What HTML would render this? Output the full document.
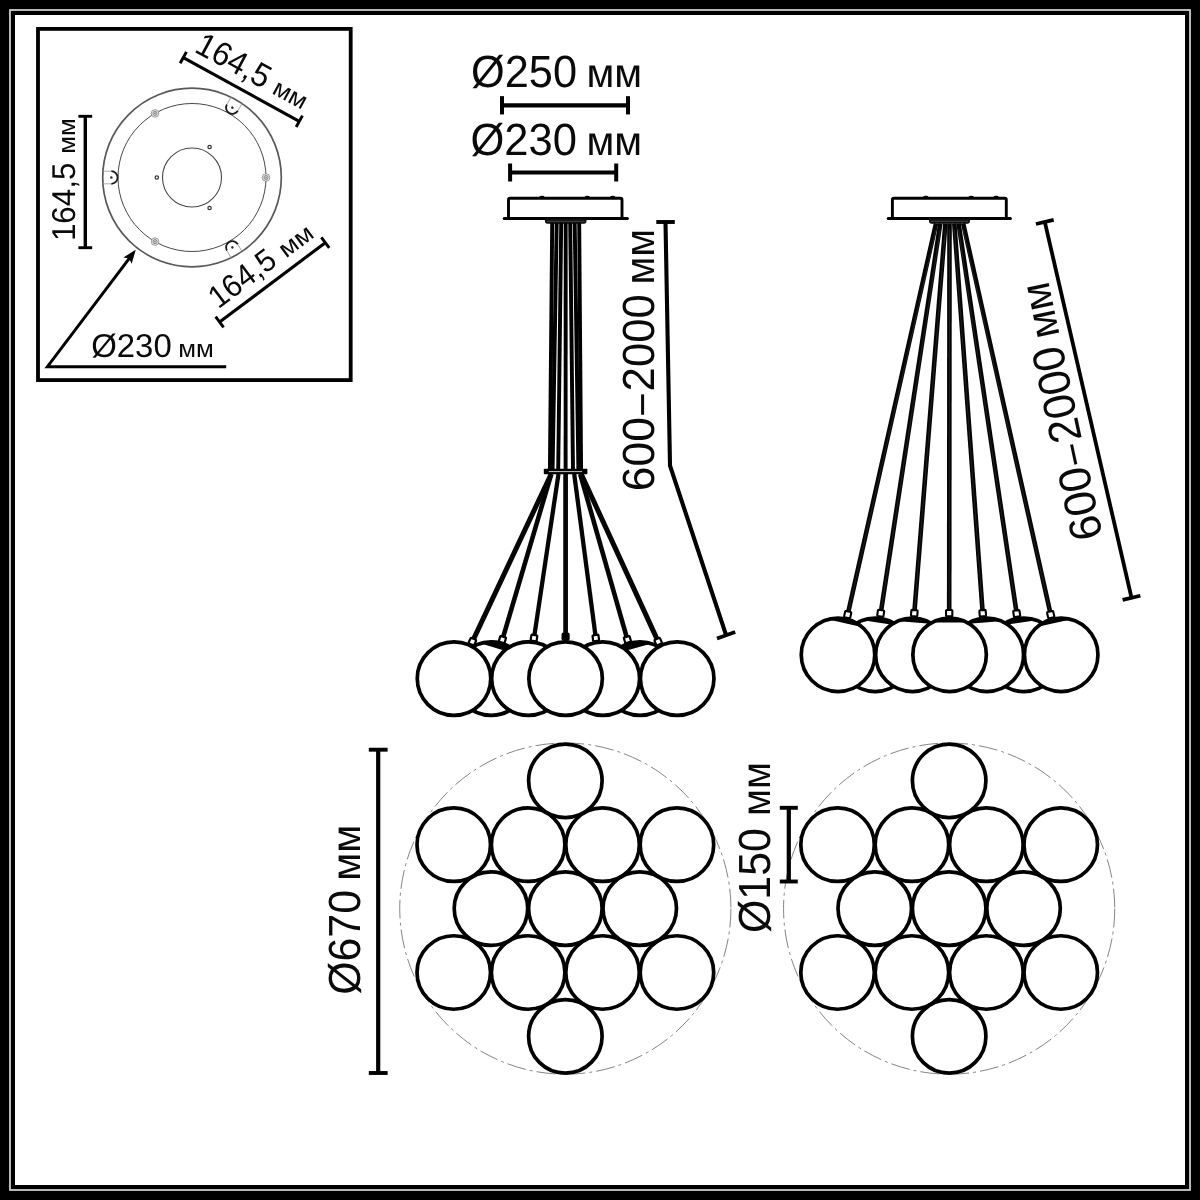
<!DOCTYPE html>
<html lang="ru"><head><meta charset="utf-8"><title>Схема светильника</title>
<style>html,body{margin:0;padding:0;background:#000;}body{width:1200px;height:1200px;overflow:hidden;}svg{display:block;will-change:transform;}text{text-rendering:geometricPrecision;}</style>
</head><body>
<svg width="1200" height="1200" viewBox="0 0 1200 1200">
<rect x="0" y="0" width="1200" height="1200" fill="#000"/>
<rect x="15" y="15" width="1170" height="1170" fill="#fff"/>
<rect x="10" y="10" width="1180" height="1180" fill="none" stroke="#e6e6e6" stroke-width="1.6"/>
<rect x="38" y="28.9" width="312.7" height="351.2" fill="#fff" stroke="#000" stroke-width="3.8"/>
<circle cx="192" cy="177.5" r="89.3" stroke="#585858" stroke-width="1.7" fill="none" />
<circle cx="192" cy="177.5" r="74" stroke="#484848" stroke-width="1" fill="none" />
<circle cx="192" cy="177.5" r="29.5" stroke="#484848" stroke-width="1.1" fill="none" />
<circle cx="156.8" cy="177.5" r="1.7" stroke="#333" stroke-width="1.2" fill="none" />
<circle cx="209.6" cy="147.02" r="1.7" stroke="#333" stroke-width="1.2" fill="none" />
<circle cx="209.6" cy="207.98" r="1.7" stroke="#333" stroke-width="1.2" fill="none" />
<circle cx="266" cy="177.5" r="3.8" stroke="#777" stroke-width="0.7" fill="#f0f0f0" />
<circle cx="266" cy="177.5" r="2.1" stroke="#666" stroke-width="0.7" fill="#dedede" />
<circle cx="266" cy="177.5" r="0.8" stroke="#666" stroke-width="0.4" fill="#aaa" />
<circle cx="155" cy="241.59" r="3.8" stroke="#777" stroke-width="0.7" fill="#f0f0f0" />
<circle cx="155" cy="241.59" r="2.1" stroke="#666" stroke-width="0.7" fill="#dedede" />
<circle cx="155" cy="241.59" r="0.8" stroke="#666" stroke-width="0.4" fill="#aaa" />
<circle cx="155" cy="113.41" r="3.8" stroke="#777" stroke-width="0.7" fill="#f0f0f0" />
<circle cx="155" cy="113.41" r="2.1" stroke="#666" stroke-width="0.7" fill="#dedede" />
<circle cx="155" cy="113.41" r="0.8" stroke="#666" stroke-width="0.4" fill="#aaa" />
<g transform="translate(192 177.5) rotate(180)">
<path d="M89 -6.3 L80.7 -6.3 M80.7 6.3 L89 6.3" stroke="#9a9a9a" stroke-width="0.8" fill="none"/>
<path d="M80.7 -6.3 A6.3 6.3 0 0 0 80.7 6.3" stroke="#1a1a1a" stroke-width="1.8" fill="none"/>
<circle cx="80.7" cy="0" r="1.3" fill="#333"/>
</g>
<g transform="translate(192 177.5) rotate(-60)">
<path d="M89 -6.3 L80.7 -6.3 M80.7 6.3 L89 6.3" stroke="#9a9a9a" stroke-width="0.8" fill="none"/>
<path d="M80.7 -6.3 A6.3 6.3 0 0 0 80.7 6.3" stroke="#1a1a1a" stroke-width="1.8" fill="none"/>
<circle cx="80.7" cy="0" r="1.3" fill="#333"/>
</g>
<g transform="translate(192 177.5) rotate(60)">
<path d="M89 -6.3 L80.7 -6.3 M80.7 6.3 L89 6.3" stroke="#9a9a9a" stroke-width="0.8" fill="none"/>
<path d="M80.7 -6.3 A6.3 6.3 0 0 0 80.7 6.3" stroke="#1a1a1a" stroke-width="1.8" fill="none"/>
<circle cx="80.7" cy="0" r="1.3" fill="#333"/>
</g>
<line x1="183.3" y1="57.6" x2="299.3" y2="121.3" stroke="#000" stroke-width="3.1" stroke-linecap="butt" />
<line x1="186.43" y1="51.9" x2="180.17" y2="63.3" stroke="#000" stroke-width="2.9" stroke-linecap="butt" />
<line x1="302.43" y1="115.6" x2="296.17" y2="127" stroke="#000" stroke-width="2.9" stroke-linecap="butt" />
<line x1="85.3" y1="116.3" x2="85.3" y2="247.7" stroke="#000" stroke-width="3.4" stroke-linecap="butt" />
<line x1="92.17" y1="116.3" x2="78.42" y2="116.3" stroke="#000" stroke-width="2.9" stroke-linecap="butt" />
<line x1="92.17" y1="247.7" x2="78.42" y2="247.7" stroke="#000" stroke-width="2.9" stroke-linecap="butt" />
<line x1="219.6" y1="322" x2="325.3" y2="242.7" stroke="#000" stroke-width="3.1" stroke-linecap="butt" />
<line x1="215.64" y1="316.72" x2="223.56" y2="327.28" stroke="#000" stroke-width="2.9" stroke-linecap="butt" />
<line x1="321.34" y1="237.42" x2="329.26" y2="247.98" stroke="#000" stroke-width="2.9" stroke-linecap="butt" />
<path d="M226.2 366.7 L47.4 366.7 L131 256.1" fill="none" stroke="#000" stroke-width="3" stroke-linejoin="miter"/>
<path d="M135.75 249.75 L123.4 257.46 L129.12 258.52 L131.7 263.73 Z" fill="#000"/>
<g transform="translate(75 238.7) rotate(-90)" font-family="'Liberation Sans', sans-serif" fill="#0a0a0a">
<text><tspan x="-2.39" y="0" font-size="33" textLength="78.4" lengthAdjust="spacingAndGlyphs">164,5</tspan> <tspan x="84.91" y="0" font-size="24.4" textLength="35.58" lengthAdjust="spacingAndGlyphs">мм</tspan></text>
</g>
<g transform="translate(195.5 52.3) rotate(28.4)" font-family="'Liberation Sans', sans-serif" fill="#0a0a0a">
<text><tspan x="-2.43" y="0" font-size="33" textLength="79.77" lengthAdjust="spacingAndGlyphs">164,5</tspan> <tspan x="85.71" y="0" font-size="24.4" textLength="35.58" lengthAdjust="spacingAndGlyphs">мм</tspan></text>
</g>
<g transform="translate(220 308.2) rotate(-37)" font-family="'Liberation Sans', sans-serif" fill="#0a0a0a">
<text><tspan x="-2.3" y="0" font-size="31.5" textLength="75.67" lengthAdjust="spacingAndGlyphs">164,5</tspan> <tspan x="82.54" y="0" font-size="24.4" textLength="36.91" lengthAdjust="spacingAndGlyphs">мм</tspan></text>
</g>
<g transform="translate(92.3 357.1) rotate(0)" font-family="'Liberation Sans', sans-serif" fill="#0a0a0a">
<text><tspan x="-1.14" y="0" font-size="33" textLength="80.53" lengthAdjust="spacingAndGlyphs">Ø230</tspan> <tspan x="85.91" y="0" font-size="24.8" textLength="35.58" lengthAdjust="spacingAndGlyphs">мм</tspan></text>
</g>
<g transform="translate(472.5 87) rotate(0)" font-family="'Liberation Sans', sans-serif" fill="#0a0a0a">
<text><tspan x="-1.5" y="0" font-size="45" textLength="105.99" lengthAdjust="spacingAndGlyphs">Ø250</tspan> <tspan x="113.9" y="0" font-size="40.5" textLength="55.59" lengthAdjust="spacingAndGlyphs">мм</tspan></text>
</g>
<line x1="502" y1="105.3" x2="628" y2="105.3" stroke="#000" stroke-width="4.2" stroke-linecap="butt" />
<line x1="502" y1="96.15" x2="502" y2="114.45" stroke="#000" stroke-width="4" stroke-linecap="butt" />
<line x1="628" y1="96.15" x2="628" y2="114.45" stroke="#000" stroke-width="4" stroke-linecap="butt" />
<g transform="translate(472 155) rotate(0)" font-family="'Liberation Sans', sans-serif" fill="#0a0a0a">
<text><tspan x="-1.51" y="0" font-size="45" textLength="106.51" lengthAdjust="spacingAndGlyphs">Ø230</tspan> <tspan x="114.4" y="0" font-size="40.5" textLength="55.59" lengthAdjust="spacingAndGlyphs">мм</tspan></text>
</g>
<line x1="510.1" y1="172.5" x2="616.2" y2="172.5" stroke="#000" stroke-width="4.2" stroke-linecap="butt" />
<line x1="510.1" y1="163.5" x2="510.1" y2="181.5" stroke="#000" stroke-width="4" stroke-linecap="butt" />
<line x1="616.2" y1="163.5" x2="616.2" y2="181.5" stroke="#000" stroke-width="4" stroke-linecap="butt" />
<path d="M508.5 218.5 L508.5 199.8 Q508.5 198.3 510 198.3 L620.5 198.3 Q622 198.3 622 199.8 L622 218.5" fill="#fff" stroke="#000" stroke-width="2.9"/>
<ellipse cx="542" cy="196.9" rx="2.6" ry="1.2" fill="#000"/>
<ellipse cx="587.3" cy="196.9" rx="2.6" ry="1.2" fill="#000"/>
<ellipse cx="612.7" cy="196.9" rx="2.6" ry="1.2" fill="#000"/>
<line x1="504.2" y1="218.4" x2="627.4" y2="218.4" stroke="#000" stroke-width="3" stroke-linecap="round" />
<path d="M544.7 218.4 L586.7 218.4 L586.4 222 Q586.1 223.7 584.2 223.7 L547.2 223.7 Q545.3 223.7 545 222 Z" fill="#111"/>
<line x1="546.7" y1="221.3" x2="584.7" y2="221.3" stroke="#5a5a5a" stroke-width="0.7" stroke-linecap="butt" />
<path d="M892.4 218.5 L892.4 199.8 Q892.4 198.3 893.9 198.3 L1004.8 198.3 Q1006.3 198.3 1006.3 199.8 L1006.3 218.5" fill="#fff" stroke="#000" stroke-width="2.9"/>
<ellipse cx="925.8" cy="196.9" rx="2.6" ry="1.2" fill="#000"/>
<ellipse cx="971.2" cy="196.9" rx="2.6" ry="1.2" fill="#000"/>
<ellipse cx="996.2" cy="196.9" rx="2.6" ry="1.2" fill="#000"/>
<line x1="888.2" y1="218.4" x2="1010.4" y2="218.4" stroke="#000" stroke-width="3" stroke-linecap="round" />
<path d="M928.8 218.4 L970.2 218.4 L969.9 222 Q969.6 223.7 967.7 223.7 L931.3 223.7 Q929.4 223.7 929.1 222 Z" fill="#111"/>
<line x1="930.8" y1="221.3" x2="968.2" y2="221.3" stroke="#5a5a5a" stroke-width="0.7" stroke-linecap="butt" />
<line x1="552.2" y1="223" x2="549.9" y2="470" stroke="#000" stroke-width="3.9" stroke-linecap="butt" />
<line x1="556.7" y1="223" x2="552.6" y2="470" stroke="#000" stroke-width="3.9" stroke-linecap="butt" />
<line x1="561.2" y1="223" x2="558.2" y2="470" stroke="#000" stroke-width="3.9" stroke-linecap="butt" />
<line x1="565.7" y1="223" x2="565.6" y2="470" stroke="#000" stroke-width="3.9" stroke-linecap="butt" />
<line x1="570.2" y1="223" x2="573" y2="470" stroke="#000" stroke-width="3.9" stroke-linecap="butt" />
<line x1="574.7" y1="223" x2="578.4" y2="470" stroke="#000" stroke-width="3.9" stroke-linecap="butt" />
<line x1="579.2" y1="223" x2="581.1" y2="470" stroke="#000" stroke-width="3.9" stroke-linecap="butt" />
<rect x="543.8" y="468.8" width="43.6" height="5.5" rx="0.8" fill="#000"/>
<line x1="548.8" y1="471.6" x2="582" y2="471.6" stroke="#ddd" stroke-width="0.9" stroke-linecap="butt" />
<circle cx="491.2" cy="678.6" r="36.75" stroke="#000" stroke-width="3.7" fill="#fff" />
<g transform="translate(491.2 678.6) rotate(16.45)"><path d="M-18.93 -31.5 A36.75 36.75 0 0 1 18.93 -31.5 Z" fill="#000" stroke="#000" stroke-width="1.6" stroke-linejoin="round"/></g>
<circle cx="640" cy="678.6" r="36.75" stroke="#000" stroke-width="3.7" fill="#fff" />
<g transform="translate(640 678.6) rotate(-15.91)"><path d="M-18.93 -31.5 A36.75 36.75 0 0 1 18.93 -31.5 Z" fill="#000" stroke="#000" stroke-width="1.6" stroke-linejoin="round"/></g>
<circle cx="528.4" cy="678.6" r="36.75" stroke="#000" stroke-width="3.7" fill="#fff" />
<circle cx="602.8" cy="678.6" r="36.75" stroke="#000" stroke-width="3.7" fill="#fff" />
<circle cx="454" cy="678.6" r="36.75" stroke="#000" stroke-width="3.7" fill="#fff" />
<circle cx="677.2" cy="678.6" r="36.75" stroke="#000" stroke-width="3.7" fill="#fff" />
<circle cx="565.6" cy="678.6" r="36.75" stroke="#000" stroke-width="3.7" fill="#fff" />
<line x1="551.2" y1="474" x2="472.4" y2="641.6" stroke="#050505" stroke-width="5" stroke-linecap="butt" />
<line x1="551.3" y1="474" x2="502.4" y2="639.6" stroke="#050505" stroke-width="4.6" stroke-linecap="butt" />
<line x1="558.5" y1="474" x2="534" y2="638" stroke="#050505" stroke-width="4.3" stroke-linecap="butt" />
<line x1="565.6" y1="474" x2="565.6" y2="636.6" stroke="#050505" stroke-width="4.7" stroke-linecap="butt" />
<line x1="574.2" y1="474" x2="595.8" y2="638" stroke="#050505" stroke-width="4.3" stroke-linecap="butt" />
<line x1="580.2" y1="474" x2="627.4" y2="639.6" stroke="#050505" stroke-width="4.6" stroke-linecap="butt" />
<line x1="581.2" y1="474" x2="658.2" y2="641.6" stroke="#050505" stroke-width="5" stroke-linecap="butt" />
<g transform="translate(472.4 641.6) rotate(25.18)"><rect x="-3" y="-3" width="6" height="6" rx="0.8" fill="#fff" stroke="#000" stroke-width="2.2"/></g>
<g transform="translate(502.4 639.6) rotate(16.45)"><rect x="-3" y="-3" width="6" height="6" rx="0.8" fill="#fff" stroke="#000" stroke-width="2.2"/></g>
<g transform="translate(534 638) rotate(8.5)"><rect x="-3" y="-3" width="6" height="6" rx="0.8" fill="#fff" stroke="#000" stroke-width="2.2"/></g>
<g transform="translate(565.6 636.6) rotate(0)"><rect x="-3" y="-3" width="6" height="6" rx="0.8" fill="#000" stroke="#000" stroke-width="2.2"/></g>
<g transform="translate(595.8 638) rotate(-7.5)"><rect x="-3" y="-3" width="6" height="6" rx="0.8" fill="#fff" stroke="#000" stroke-width="2.2"/></g>
<g transform="translate(627.4 639.6) rotate(-15.91)"><rect x="-3" y="-3" width="6" height="6" rx="0.8" fill="#fff" stroke="#000" stroke-width="2.2"/></g>
<g transform="translate(658.2 641.6) rotate(-24.68)"><rect x="-3" y="-3" width="6" height="6" rx="0.8" fill="#fff" stroke="#000" stroke-width="2.2"/></g>
<path d="M665.5 222 L670 465.6 L726.1 635.2" fill="none" stroke="#000" stroke-width="4.1" stroke-linejoin="round"/>
<line x1="656.3" y1="222" x2="674.8" y2="222" stroke="#000" stroke-width="3.9" stroke-linecap="butt" />
<line x1="717" y1="638.5" x2="735.2" y2="631.9" stroke="#000" stroke-width="3.7" stroke-linecap="butt" />
<g transform="translate(654.1 488.9) rotate(-90)" font-family="'Liberation Sans', sans-serif" fill="#0a0a0a">
<text><tspan x="-2.25" y="0" font-size="45" textLength="73.98" lengthAdjust="spacingAndGlyphs">600</tspan><tspan x="74.1" y="0" font-size="45" textLength="20.42" lengthAdjust="spacingAndGlyphs">–</tspan><tspan x="97.5" y="0" font-size="45" textLength="97.31" lengthAdjust="spacingAndGlyphs">2000</tspan> <tspan x="204.29" y="0" font-size="41.5" textLength="55.7" lengthAdjust="spacingAndGlyphs">мм</tspan></text>
</g>
<circle cx="875.2" cy="654.8" r="36.75" stroke="#000" stroke-width="3.7" fill="#fff" />
<g transform="translate(875.2 654.8) rotate(8.69)"><path d="M-15.76 -33.2 A36.75 36.75 0 0 1 15.76 -33.2 Z" fill="#000" stroke="#000" stroke-width="1.6" stroke-linejoin="round"/></g>
<circle cx="1024" cy="654.8" r="36.75" stroke="#000" stroke-width="3.7" fill="#fff" />
<g transform="translate(1024 654.8) rotate(-8.47)"><path d="M-15.76 -33.2 A36.75 36.75 0 0 1 15.76 -33.2 Z" fill="#000" stroke="#000" stroke-width="1.6" stroke-linejoin="round"/></g>
<circle cx="912.4" cy="654.8" r="36.75" stroke="#000" stroke-width="3.7" fill="#fff" />
<g transform="translate(912.4 654.8) rotate(4.56)"><path d="M-15.76 -33.2 A36.75 36.75 0 0 1 15.76 -33.2 Z" fill="#000" stroke="#000" stroke-width="1.6" stroke-linejoin="round"/></g>
<circle cx="986.8" cy="654.8" r="36.75" stroke="#000" stroke-width="3.7" fill="#fff" />
<g transform="translate(986.8 654.8) rotate(-4.17)"><path d="M-15.76 -33.2 A36.75 36.75 0 0 1 15.76 -33.2 Z" fill="#000" stroke="#000" stroke-width="1.6" stroke-linejoin="round"/></g>
<circle cx="838" cy="654.8" r="36.75" stroke="#000" stroke-width="3.7" fill="#fff" />
<g transform="translate(838 654.8) rotate(12.72)"><path d="M-15.76 -33.2 A36.75 36.75 0 0 1 15.76 -33.2 Z" fill="#000" stroke="#000" stroke-width="1.6" stroke-linejoin="round"/></g>
<circle cx="1061.2" cy="654.8" r="36.75" stroke="#000" stroke-width="3.7" fill="#fff" />
<g transform="translate(1061.2 654.8) rotate(-12.61)"><path d="M-15.76 -33.2 A36.75 36.75 0 0 1 15.76 -33.2 Z" fill="#000" stroke="#000" stroke-width="1.6" stroke-linejoin="round"/></g>
<circle cx="949.6" cy="654.8" r="36.75" stroke="#000" stroke-width="3.7" fill="#fff" />
<g transform="translate(949.6 654.8) rotate(0.04)"><path d="M-15.76 -33.2 A36.75 36.75 0 0 1 15.76 -33.2 Z" fill="#000" stroke="#000" stroke-width="1.6" stroke-linejoin="round"/></g>
<line x1="936" y1="223.5" x2="847.7" y2="614.6" stroke="#050505" stroke-width="4.6" stroke-linecap="butt" />
<line x1="936" y1="229.5" x2="847.7" y2="614.6" stroke="#333" stroke-width="0.6" stroke-linecap="butt" />
<line x1="940.3" y1="223.5" x2="880.7" y2="613.3" stroke="#050505" stroke-width="4.6" stroke-linecap="butt" />
<line x1="940.3" y1="229.5" x2="880.7" y2="613.3" stroke="#333" stroke-width="0.6" stroke-linecap="butt" />
<line x1="945.4" y1="223.5" x2="914.3" y2="613.2" stroke="#050505" stroke-width="4.6" stroke-linecap="butt" />
<line x1="945.4" y1="229.5" x2="914.3" y2="613.2" stroke="#333" stroke-width="0.6" stroke-linecap="butt" />
<line x1="949.5" y1="223.5" x2="949.2" y2="613.2" stroke="#050505" stroke-width="4.6" stroke-linecap="butt" />
<line x1="949.5" y1="229.5" x2="949.2" y2="613.2" stroke="#333" stroke-width="0.6" stroke-linecap="butt" />
<line x1="954.3" y1="223.5" x2="982.7" y2="613.2" stroke="#050505" stroke-width="4.6" stroke-linecap="butt" />
<line x1="954.3" y1="229.5" x2="982.7" y2="613.2" stroke="#333" stroke-width="0.6" stroke-linecap="butt" />
<line x1="958.6" y1="223.5" x2="1016.7" y2="613.6" stroke="#050505" stroke-width="4.6" stroke-linecap="butt" />
<line x1="958.6" y1="229.5" x2="1016.7" y2="613.6" stroke="#333" stroke-width="0.6" stroke-linecap="butt" />
<line x1="963.2" y1="223.5" x2="1050.7" y2="614.6" stroke="#050505" stroke-width="4.6" stroke-linecap="butt" />
<line x1="963.2" y1="229.5" x2="1050.7" y2="614.6" stroke="#333" stroke-width="0.6" stroke-linecap="butt" />
<g transform="translate(847.7 614.6) rotate(12.72)"><rect x="-3.15" y="-3.15" width="6.3" height="6.3" rx="0.8" fill="#fff" stroke="#000" stroke-width="2.1"/></g>
<g transform="translate(880.7 613.3) rotate(8.69)"><rect x="-3.15" y="-3.15" width="6.3" height="6.3" rx="0.8" fill="#fff" stroke="#000" stroke-width="2.1"/></g>
<g transform="translate(914.3 613.2) rotate(4.56)"><rect x="-3.15" y="-3.15" width="6.3" height="6.3" rx="0.8" fill="#fff" stroke="#000" stroke-width="2.1"/></g>
<g transform="translate(949.2 613.2) rotate(0.04)"><rect x="-3.15" y="-3.15" width="6.3" height="6.3" rx="0.8" fill="#fff" stroke="#000" stroke-width="2.1"/></g>
<g transform="translate(982.7 613.2) rotate(-4.17)"><rect x="-3.15" y="-3.15" width="6.3" height="6.3" rx="0.8" fill="#fff" stroke="#000" stroke-width="2.1"/></g>
<g transform="translate(1016.7 613.6) rotate(-8.47)"><rect x="-3.15" y="-3.15" width="6.3" height="6.3" rx="0.8" fill="#fff" stroke="#000" stroke-width="2.1"/></g>
<g transform="translate(1050.7 614.6) rotate(-12.61)"><rect x="-3.15" y="-3.15" width="6.3" height="6.3" rx="0.8" fill="#fff" stroke="#000" stroke-width="2.1"/></g>
<line x1="1044.8" y1="221.9" x2="1131.5" y2="597.8" stroke="#000" stroke-width="3.8" stroke-linecap="butt" />
<line x1="1053.67" y1="219.85" x2="1035.93" y2="223.95" stroke="#000" stroke-width="3.7" stroke-linecap="butt" />
<line x1="1140.37" y1="595.75" x2="1122.63" y2="599.85" stroke="#000" stroke-width="3.7" stroke-linecap="butt" />
<g transform="translate(1103.3 538) rotate(-102.1)" font-family="'Liberation Sans', sans-serif" fill="#0a0a0a">
<text><tspan x="1.35" y="0" font-size="45" textLength="73.98" lengthAdjust="spacingAndGlyphs">600</tspan><tspan x="77.7" y="0" font-size="45" textLength="20.42" lengthAdjust="spacingAndGlyphs">–</tspan><tspan x="101.1" y="0" font-size="45" textLength="97.52" lengthAdjust="spacingAndGlyphs">2000</tspan> <tspan x="207.36" y="0" font-size="41.5" textLength="56.36" lengthAdjust="spacingAndGlyphs">мм</tspan></text>
</g>
<circle cx="565.35" cy="908.6" r="165.6" stroke="#858585" stroke-width="1" fill="none" stroke-dasharray="19 4 3 4"/>
<circle cx="453.75" cy="844.7" r="36.75" stroke="#000" stroke-width="3.7" fill="#fff" />
<circle cx="528.15" cy="844.7" r="36.75" stroke="#000" stroke-width="3.7" fill="#fff" />
<circle cx="602.55" cy="844.7" r="36.75" stroke="#000" stroke-width="3.7" fill="#fff" />
<circle cx="676.95" cy="844.7" r="36.75" stroke="#000" stroke-width="3.7" fill="#fff" />
<circle cx="453.75" cy="972.5" r="36.75" stroke="#000" stroke-width="3.7" fill="#fff" />
<circle cx="528.15" cy="972.5" r="36.75" stroke="#000" stroke-width="3.7" fill="#fff" />
<circle cx="602.55" cy="972.5" r="36.75" stroke="#000" stroke-width="3.7" fill="#fff" />
<circle cx="676.95" cy="972.5" r="36.75" stroke="#000" stroke-width="3.7" fill="#fff" />
<circle cx="565.35" cy="780.8" r="36.75" stroke="#000" stroke-width="3.7" fill="#fff" />
<circle cx="565.35" cy="1036.4" r="36.75" stroke="#000" stroke-width="3.7" fill="#fff" />
<circle cx="490.95" cy="908.6" r="36.75" stroke="#000" stroke-width="3.7" fill="#fff" />
<circle cx="565.35" cy="908.6" r="36.75" stroke="#000" stroke-width="3.7" fill="#fff" />
<circle cx="639.75" cy="908.6" r="36.75" stroke="#000" stroke-width="3.7" fill="#fff" />
<circle cx="949.15" cy="908.6" r="165.6" stroke="#858585" stroke-width="1" fill="none" stroke-dasharray="19 4 3 4"/>
<circle cx="837.55" cy="844.7" r="36.75" stroke="#000" stroke-width="3.7" fill="#fff" />
<circle cx="911.95" cy="844.7" r="36.75" stroke="#000" stroke-width="3.7" fill="#fff" />
<circle cx="986.35" cy="844.7" r="36.75" stroke="#000" stroke-width="3.7" fill="#fff" />
<circle cx="1060.75" cy="844.7" r="36.75" stroke="#000" stroke-width="3.7" fill="#fff" />
<circle cx="837.55" cy="972.5" r="36.75" stroke="#000" stroke-width="3.7" fill="#fff" />
<circle cx="911.95" cy="972.5" r="36.75" stroke="#000" stroke-width="3.7" fill="#fff" />
<circle cx="986.35" cy="972.5" r="36.75" stroke="#000" stroke-width="3.7" fill="#fff" />
<circle cx="1060.75" cy="972.5" r="36.75" stroke="#000" stroke-width="3.7" fill="#fff" />
<circle cx="949.15" cy="780.8" r="36.75" stroke="#000" stroke-width="3.7" fill="#fff" />
<circle cx="949.15" cy="1036.4" r="36.75" stroke="#000" stroke-width="3.7" fill="#fff" />
<circle cx="874.75" cy="908.6" r="36.75" stroke="#000" stroke-width="3.7" fill="#fff" />
<circle cx="949.15" cy="908.6" r="36.75" stroke="#000" stroke-width="3.7" fill="#fff" />
<circle cx="1023.55" cy="908.6" r="36.75" stroke="#000" stroke-width="3.7" fill="#fff" />
<line x1="378.2" y1="749.7" x2="378.2" y2="1073" stroke="#000" stroke-width="4.2" stroke-linecap="butt" />
<line x1="387.6" y1="749.7" x2="368.8" y2="749.7" stroke="#000" stroke-width="3.9" stroke-linecap="butt" />
<line x1="387.6" y1="1073" x2="368.8" y2="1073" stroke="#000" stroke-width="3.9" stroke-linecap="butt" />
<g transform="translate(360.3 993.3) rotate(-90)" font-family="'Liberation Sans', sans-serif" fill="#0a0a0a">
<text><tspan x="-1.48" y="0" font-size="45" textLength="104.76" lengthAdjust="spacingAndGlyphs">Ø670</tspan> <tspan x="112.68" y="0" font-size="40.5" textLength="55.92" lengthAdjust="spacingAndGlyphs">мм</tspan></text>
</g>
<line x1="788.8" y1="807.8" x2="788.8" y2="881.5" stroke="#000" stroke-width="4.2" stroke-linecap="butt" />
<line x1="797.8" y1="807.8" x2="779.8" y2="807.8" stroke="#000" stroke-width="3.9" stroke-linecap="butt" />
<line x1="797.8" y1="881.5" x2="779.8" y2="881.5" stroke="#000" stroke-width="3.9" stroke-linecap="butt" />
<g transform="translate(769.9 931.5) rotate(-90)" font-family="'Liberation Sans', sans-serif" fill="#0a0a0a">
<text><tspan x="-1.49" y="0" font-size="45" textLength="104.86" lengthAdjust="spacingAndGlyphs">Ø150</tspan> <tspan x="115.48" y="0" font-size="40.5" textLength="54.03" lengthAdjust="spacingAndGlyphs">мм</tspan></text>
</g>
</svg>
</body></html>
